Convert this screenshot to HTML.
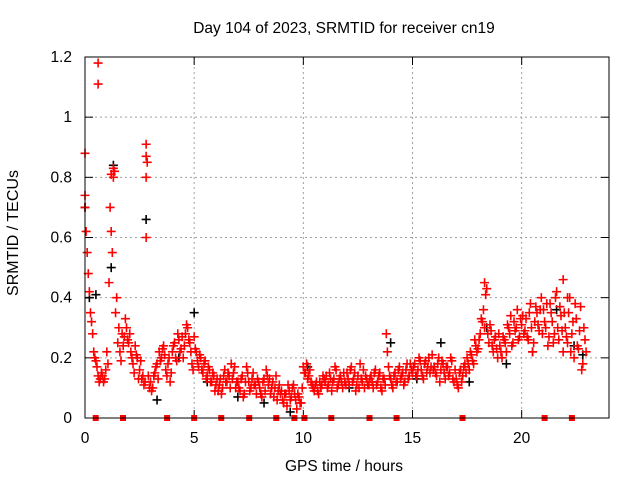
<!DOCTYPE html>
<html><head><meta charset="utf-8"><style>
body{margin:0;background:#fff}
svg{display:block;font-family:"Liberation Sans",sans-serif}
</style></head><body>
<svg id="chart" width="640" height="480" viewBox="0 0 640 480">
<text x="344" y="33" font-size="15.5" text-anchor="middle">Day 104 of 2023, SRMTID for receiver cn19</text>
<g id="grid"></g>
<g id="axes"></g>
<g id="marks"></g>
<rect x="85" y="57" width="524" height="361" fill="none" stroke="#000" stroke-width="1"/>
<text transform="translate(18,233) rotate(-90)" font-size="16" text-anchor="middle">SRMTID / TECUs</text>
<text x="344" y="471" font-size="15.5" text-anchor="middle">GPS time / hours</text>
</svg>
<script>
const xTicks=[0,5,10,15,20];
const yTicks=[0,0.2,0.4,0.6,0.8,1,1.2];
const yTickLabels=["0","0.2","0.4","0.6","0.8","1","1.2"];
const step=0.1;
const redA=[.74,.55,.42,.32,.22,.19,.14,.13,.14,.13,
.22,.45,.62,.80,.35,.25,.22,.28,.27,.30,
.25,.22,.18,.24,.20,.16,.13,.11,.60,.14,
.12,.10,.15,.18,.22,.20,.24,.16,.18,.12,
.22,.25,.19,.26,.23,.20,.28,.30,.25,.18,
.27,.22,.17,.20,.15,.19,.14,.16,.12,.14,
.11,.09,.13,.10,.16,.12,.14,.18,.15,.10,
.12,.09,.14,.08,.17,.12,.10,.15,.11,.13,
.10,.07,.13,.16,.11,.08,.12,.10,.06,.11,
.09,.05,.08,.11,.06,.10,.08,.03,.07,.05,
.17,.15,.13,.16,.11,.09,.12,.08,.10,.14,
.12,.10,.15,.09,.13,.16,.11,.14,.10,.12,
.15,.11,.17,.13,.09,.14,.18,.12,.10,.13,
.11,.14,.10,.16,.12,.15,.09,.13,.28,.17,
.13,.10,.15,.12,.17,.14,.11,.16,.13,.18,
.15,.18,.14,.20,.16,.13,.19,.17,.15,.21,
.17,.14,.20,.16,.18,.13,.17,.15,.19,.12,
.13,.10,.16,.14,.18,.20,.16,.21,.18,.24,
.23,.28,.32,.30,.43,.25,.29,.22,.27,.20,
.24,.20,.26,.22,.30,.34,.25,.29,.36,.27,
.31,.28,.33,.26,.38,.22,.32,.35,.29,.40,
.36,.30,.24,.38,.32,.28,.42,.26,.34,.22,
.30,.25,.40,.28,.20,.33,.23,.37,.18,.26];
const redB=[.62,.48,.35,.28,.20,.17,.12,.15,.12,.16,
.18,.70,.55,.82,.40,.30,.19,.24,.33,.26,
.28,.20,.15,.21,.13,.19,.14,.12,.85,.10,
.09,.14,.17,.13,.19,.23,.21,.14,.20,.15,
.24,.20,.28,.22,.27,.24,.31,.26,.22,.16,
.23,.19,.21,.16,.18,.13,.17,.12,.15,.09,
.13,.11,.08,.14,.12,.15,.10,.13,.17,.12,
.10,.13,.07,.12,.15,.09,.13,.11,.08,.12,
.08,.12,.09,.14,.13,.10,.07,.14,.09,.08,
.06,.08,.04,.09,.07,.11,.06,.08,.05,.10,
.15,.18,.14,.12,.10,.11,.09,.12,.11,.13,
.14,.11,.13,.12,.17,.10,.13,.12,.15,.11,
.13,.16,.12,.15,.11,.10,.13,.16,.14,.11,
.13,.12,.15,.11,.14,.10,.13,.11,.22,.14,
.11,.14,.12,.16,.13,.15,.12,.18,.14,.16,
.17,.14,.16,.19,.14,.18,.15,.20,.17,.16,
.15,.18,.12,.19,.15,.17,.14,.20,.13,.16,
.11,.15,.12,.17,.15,.18,.22,.19,.26,.22,
.26,.33,.36,.41,.28,.31,.24,.26,.23,.28,
.22,.27,.25,.31,.28,.24,.32,.30,.26,.33,
.34,.29,.27,.35,.30,.25,.37,.31,.36,.28,
.32,.38,.27,.35,.25,.40,.30,.37,.29,.35,
.27,.35,.22,.32,.38,.24,.29,.16,.30,.22];
const redExtraT=[0.6,0.6,2.8,2.8,2.8,1.2,1.3,0.0,0.0,18.3,21.9,22.1];
const redExtraV=[1.18,1.11,0.91,0.87,0.80,0.81,0.83,0.88,0.70,0.45,0.46,0.40];
const blackT=[0.0,0.2,0.5,1.2,1.3,2.8,3.3,4.3,5.0,5.6,7.0,8.2,9.4,10.2,12.1,14.0,15.2,16.3,17.6,18.4,19.3,20.5,21.6,22.4,22.8];
const blackV=[0.70,0.40,0.41,0.50,0.84,0.66,0.06,0.20,0.35,0.12,0.07,0.05,0.02,0.17,0.10,0.25,0.13,0.25,0.12,0.30,0.18,0.22,0.36,0.24,0.21];
const eventT=[0.49,1.74,3.76,5.0,6.24,7.52,8.76,9.59,10.05,11.28,13.03,14.27,17.29,21.05,22.3];

const X0=85,X1=609,Y0=418,Y1=57,XMAX=24,YMAX=1.2;
const sx=t=>X0+(X1-X0)*t/XMAX;
const sy=v=>Y0-(Y0-Y1)*v/YMAX;
const NS="http://www.w3.org/2000/svg";
function mk(tag,parent,attrs){const e=document.createElementNS(NS,tag);for(const k in attrs)e.setAttribute(k,attrs[k]);parent.appendChild(e);return e;}
const grid=document.getElementById('grid'),axes=document.getElementById('axes'),marks=document.getElementById('marks');
yTicks.forEach((v,i)=>{
  const y=sy(v);
  if(i>0&&i<yTicks.length-1){const g=mk('line',grid,{x1:X0,x2:X1,y1:y,y2:y,stroke:'#a0a0a0','stroke-dasharray':'2,3','stroke-width':1});
  
  }
  mk('line',axes,{x1:X0,x2:X0+8,y1:y,y2:y,stroke:'#000'});
  mk('line',axes,{x1:X1-8,x2:X1,y1:y,y2:y,stroke:'#000'});
  const t=mk('text',axes,{x:72,y:y+5,'font-size':15.5,'text-anchor':'end'});t.textContent=yTickLabels[i];
  
  
});
xTicks.forEach(v=>{
  const x=sx(v);
  if(v>0){const g=mk('line',grid,{x1:x,x2:x,y1:Y1,y2:Y0,stroke:'#a0a0a0','stroke-dasharray':'2,3','stroke-width':1});
  
  }
  mk('line',axes,{x1:x,x2:x,y1:Y0,y2:Y0-8,stroke:'#000'});
  mk('line',axes,{x1:x,x2:x,y1:Y1,y2:Y1+8,stroke:'#000'});
  const t=mk('text',axes,{x:x,y:443,'font-size':15.5,'text-anchor':'middle'});t.textContent=String(v);
  
  
});
function cross(t,v,col,name){
  const x=sx(t),y=sy(v);
  const p=mk('path',marks,{d:`M${x-4.5},${y}H${x+4.5}M${x},${y-4.5}V${y+4.5}`,stroke:col,'stroke-width':1.6,fill:'none'});
  
  
}
blackT.forEach((t,i)=>cross(t,blackV[i],'#000','black-point'));
redA.forEach((v,i)=>cross(i*step,v,'#f00','red-point'));
redB.forEach((v,i)=>cross(i*step+step/2,v,'#f00','red-point'));
redExtraT.forEach((t,i)=>cross(t,redExtraV[i],'#f00','red-point'));
eventT.forEach(t=>{
  const r=mk('rect',marks,{x:sx(t)-3,y:Y0-3,width:6,height:6,fill:'#f00'});
  
  
});
</script>
</body></html>
